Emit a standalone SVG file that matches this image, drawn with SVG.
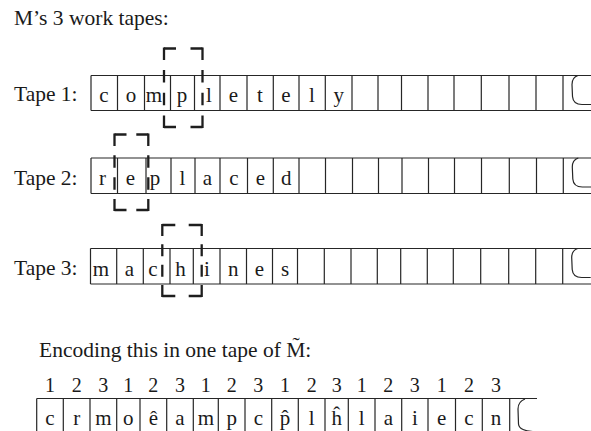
<svg xmlns="http://www.w3.org/2000/svg" xmlns:xlink="http://www.w3.org/1999/xlink" width="591" height="431" viewBox="0 0 591 431">
  <style>
    .label { font-family: "Liberation Serif", "Times New Roman", serif; font-size: 21.5px; fill: #1a1a1a; }
    .sym { font-family: "Liberation Serif", "Times New Roman", serif; font-size: 21px; fill: #1a1a1a; text-anchor: middle; }
    .num { font-family: "Liberation Serif", "Times New Roman", serif; font-size: 20px; fill: #1a1a1a; text-anchor: middle; }
    .cell { stroke: #262626; stroke-width: 1.2; fill: none; }
    .head { stroke: #1e1e1e; stroke-width: 2.3; fill: none; }
  </style>
  <defs>
    <!-- torn right end of a tape, 35px high -->
    <path id="tear" d="M15,0 C10,1.5 9,5 9,9 L9.5,21 C10,27 13,29 19,29 L28,29" class="cell"/>
  </defs>
  <rect width="591" height="431" fill="#ffffff"/>

  <text class="label" x="14" y="25">M’s 3 work tapes:</text>

  <!-- Tape 1 -->
  <g id="tape1">
    <text class="label" x="14" y="101">Tape 1:</text>
    <path class="cell" d="M91,75.5 H591 M91,110.5 H591 M91,75.5 V110.5 M117.5,75.5 V110.5 M144.5,75.5 V110.5 M170.5,75.5 V110.5 M194.5,75.5 V110.5 M220,75.5 V110.5 M247,75.5 V110.5 M273.3,75.5 V110.5 M299,75.5 V110.5 M325.3,75.5 V110.5 M352,75.5 V110.5 M378,75.5 V110.5 M401.5,75.5 V110.5 M428,75.5 V110.5 M454,75.5 V110.5 M481.3,75.5 V110.5 M509,75.5 V110.5 M536,75.5 V110.5 M563,75.5 V110.5"/>
    <use xlink:href="#tear" x="563" y="75.5"/>
    <g>
      <text class="sym" x="104" y="102">c</text>
      <text class="sym" x="131" y="102">o</text>
      <text class="sym" x="154" y="102">m</text>
      <text class="sym" x="182" y="102">p</text>
      <text class="sym" x="209" y="102">l</text>
      <text class="sym" x="233.5" y="102">e</text>
      <text class="sym" x="260" y="102">t</text>
      <text class="sym" x="286" y="102">e</text>
      <text class="sym" x="312" y="102">l</text>
      <text class="sym" x="338.7" y="102">y</text>
    </g>
  </g>

  <!-- Tape 2 -->
  <g id="tape2">
    <text class="label" x="14" y="185">Tape 2:</text>
    <path class="cell" d="M91,158 H591 M91,193.5 H591 M91,158 V193.5 M117.5,158 V193.5 M146,158 V193.5 M171,158 V193.5 M195,158 V193.5 M220,158 V193.5 M247.5,158 V193.5 M273.3,158 V193.5 M299,158 V193.5 M325.5,158 V193.5 M352.5,158 V193.5 M378.5,158 V193.5 M402,158 V193.5 M428.5,158 V193.5 M454.5,158 V193.5 M481.5,158 V193.5 M509.3,158 V193.5 M536.5,158 V193.5 M563.3,158 V193.5"/>
    <use xlink:href="#tear" x="563.3" y="158"/>
    <g>
      <text class="sym" x="102.5" y="185">r</text>
      <text class="sym" x="130.5" y="185">e</text>
      <text class="sym" x="155" y="185">p</text>
      <text class="sym" x="182.5" y="185">l</text>
      <text class="sym" x="207.5" y="185">a</text>
      <text class="sym" x="233.8" y="185">c</text>
      <text class="sym" x="260.4" y="185">e</text>
      <text class="sym" x="286.2" y="185">d</text>
    </g>
  </g>

  <!-- Tape 3 -->
  <g id="tape3">
    <text class="label" x="14" y="275">Tape 3:</text>
    <path class="cell" d="M90.5,248.5 H591 M90.5,284 H591 M90.5,248.5 V284 M116.7,248.5 V284 M143.3,248.5 V284 M170,248.5 V284 M193.3,248.5 V284 M220,248.5 V284 M246.5,248.5 V284 M272.5,248.5 V284 M297.5,248.5 V284 M324.3,248.5 V284 M351,248.5 V284 M377.3,248.5 V284 M400.7,248.5 V284 M427.3,248.5 V284 M453.3,248.5 V284 M480.7,248.5 V284 M508.7,248.5 V284 M535.7,248.5 V284 M562.7,248.5 V284"/>
    <use xlink:href="#tear" x="562.7" y="248.5"/>
    <g>
      <text class="sym" x="101" y="275.5">m</text>
      <text class="sym" x="129.5" y="275.5">a</text>
      <text class="sym" x="153" y="275.5">c</text>
      <text class="sym" x="180.5" y="275.5">h</text>
      <text class="sym" x="207" y="275.5">i</text>
      <text class="sym" x="233.3" y="275.5">n</text>
      <text class="sym" x="259.5" y="275.5">e</text>
      <text class="sym" x="285" y="275.5">s</text>
    </g>
  </g>

  <!-- read/write head windows -->
  <g id="heads">
    <g id="head1">
      <line class="head" x1="164" y1="48.5" x2="202.5" y2="48.5" stroke-dasharray="12 14.5"/>
      <line class="head" x1="164" y1="127" x2="202.5" y2="127" stroke-dasharray="12 14.5"/>
      <line class="head" x1="164" y1="47.4" x2="164" y2="128.1" stroke-dasharray="12.5 10.2"/>
      <line class="head" x1="202.5" y1="47.4" x2="202.5" y2="128.1" stroke-dasharray="12.5 10.2"/>
    </g>
    <g id="head2">
      <line class="head" x1="114.5" y1="134.5" x2="148.3" y2="134.5" stroke-dasharray="12 9.8"/>
      <line class="head" x1="114.5" y1="210" x2="148.3" y2="210" stroke-dasharray="12 9.8"/>
      <line class="head" x1="114.5" y1="133.4" x2="114.5" y2="211.1" stroke-dasharray="12.5 9.4"/>
      <line class="head" x1="148.3" y1="133.4" x2="148.3" y2="211.1" stroke-dasharray="12.5 9.4"/>
    </g>
    <g id="head3">
      <line class="head" x1="162.3" y1="225" x2="201.7" y2="225" stroke-dasharray="13 13.4"/>
      <line class="head" x1="162.3" y1="296" x2="201.7" y2="296" stroke-dasharray="13 13.4"/>
      <line class="head" x1="162.3" y1="223.9" x2="162.3" y2="297.1" stroke-dasharray="12 8.4"/>
      <line class="head" x1="201.7" y1="223.9" x2="201.7" y2="297.1" stroke-dasharray="12 8.4"/>
    </g>
  </g>

  <!-- single-tape encoding -->
  <text class="label" x="39" y="356.5">Encoding this in one tape of M̃:</text>
  <g id="encoded">
    <g>
      <text class="num" x="50" y="392">1</text>
      <text class="num" x="76.7" y="392">2</text>
      <text class="num" x="103.3" y="392">3</text>
      <text class="num" x="128.3" y="392">1</text>
      <text class="num" x="153.3" y="392">2</text>
      <text class="num" x="180" y="392">3</text>
      <text class="num" x="205.8" y="392">1</text>
      <text class="num" x="231.7" y="392">2</text>
      <text class="num" x="258.3" y="392">3</text>
      <text class="num" x="285" y="392">1</text>
      <text class="num" x="311.7" y="392">2</text>
      <text class="num" x="336.7" y="392">3</text>
      <text class="num" x="361.7" y="392">1</text>
      <text class="num" x="388.3" y="392">2</text>
      <text class="num" x="414.8" y="392">3</text>
      <text class="num" x="441.7" y="392">1</text>
      <text class="num" x="468.9" y="392">2</text>
      <text class="num" x="496" y="392">3</text>
    </g>
    <path class="cell" d="M36.7,398.5 H537 M36.7,398.5 V432 M63.3,398.5 V432 M90,398.5 V432 M116.7,398.5 V432 M140,398.5 V432 M166.7,398.5 V432 M193.3,398.5 V432 M218.3,398.5 V432 M245,398.5 V432 M271.7,398.5 V432 M298.3,398.5 V432 M325,398.5 V432 M348.3,398.5 V432 M375,398.5 V432 M401.7,398.5 V432 M428,398.5 V432 M455.5,398.5 V432 M482.3,398.5 V432 M509.7,398.5 V432"/>
    <path class="cell" d="M525,399 C519.5,401 518,405 518,409 L518.5,424 C519,429 524,431 537,432"/>
    <g>
      <text class="sym" x="50" y="425">c</text>
      <text class="sym" x="76.7" y="425">r</text>
      <text class="sym" x="103.3" y="425">m</text>
      <text class="sym" x="128.3" y="425">o</text>
      <text class="sym" x="153.3" y="425">ê</text>
      <text class="sym" x="180" y="425">a</text>
      <text class="sym" x="205.8" y="425">m</text>
      <text class="sym" x="231.7" y="425">p</text>
      <text class="sym" x="258.3" y="425">c</text>
      <text class="sym" x="285" y="425">p̂</text>
      <text class="sym" x="311.7" y="425">l</text>
      <text class="sym" x="336.7" y="425">ĥ</text>
      <text class="sym" x="361.7" y="425">l</text>
      <text class="sym" x="388.3" y="425">a</text>
      <text class="sym" x="414.8" y="425">i</text>
      <text class="sym" x="441.7" y="425">e</text>
      <text class="sym" x="468.9" y="425">c</text>
      <text class="sym" x="496" y="425">n</text>
    </g>
  </g>
</svg>
